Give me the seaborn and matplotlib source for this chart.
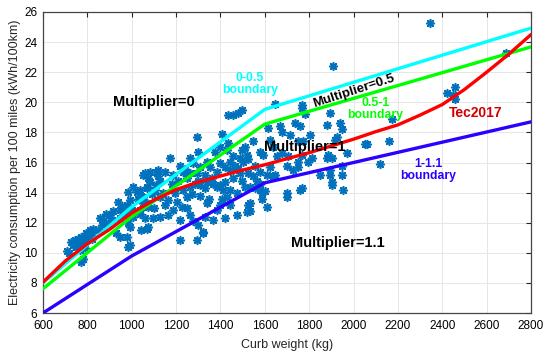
import matplotlib
matplotlib.use("Agg")
import matplotlib.pyplot as plt
import seaborn as sns
import pandas as pd
import numpy as np

# ---------------- data ----------------
curb_weight = [
    706, 718, 728, 736, 743, 751, 758, 766, 766, 773, 773, 781, 781, 788, 796, 796, 804, 811, 819, 819,
    827, 848, 856, 864, 871, 886, 893, 901, 909, 916, 931, 939, 946, 946, 946, 954, 961, 969, 977, 977,
    984, 984, 984, 991, 991, 991, 999, 1006, 1006,
    1022, 1029, 1037, 1037, 1037, 1044, 1044, 1052, 1052, 1052, 1059, 1059, 1067, 1067, 1067, 1067,
    1074, 1074, 1074, 1082, 1082, 1097, 1104, 1112, 1119, 1119, 1127, 1127, 1127, 1149, 1164, 1164,
    1172, 1187, 1187, 1202, 1100, 1090, 1110, 1140, 1150, 1180, 1195,
    1217, 1217, 1217, 1225, 1232, 1240, 1247, 1247, 1262, 1262, 1262, 1262, 1277, 1277, 1293, 1293,
    1293, 1300, 1300, 1300, 1307, 1307, 1322, 1322, 1330, 1330, 1330, 1338, 1338, 1353, 1360, 1368,
    1368, 1375, 1383, 1383, 1383, 1398, 1398, 1398, 1398, 1210, 1230, 1250, 1270, 1285, 1310, 1340, 1350,
    1405, 1405, 1413, 1420, 1420, 1420, 1428, 1428, 1435, 1435, 1443, 1443, 1443, 1443, 1458, 1458,
    1458, 1466, 1473, 1473, 1480, 1480, 1488, 1488, 1496, 1496, 1496, 1503, 1511, 1511, 1518, 1518,
    1525, 1525, 1525, 1533, 1533, 1533, 1548, 1548, 1556, 1556, 1563, 1578, 1578, 1578, 1578, 1586,
    1586, 1593, 1601, 1609, 1609,
    1616, 1623, 1623, 1638, 1638, 1646, 1646, 1654, 1669, 1676, 1676, 1699, 1699, 1699, 1706, 1714,
    1729, 1736, 1751, 1751, 1751, 1759, 1759, 1767, 1767, 1767, 1767, 1774, 1781, 1796, 1804, 1812,
    1849, 1879, 1879, 1887, 1894, 1894, 1894, 1902, 1902, 1902, 1909, 1917, 1925, 1940, 1947, 1947,
    1947, 1954, 1970,
    2052, 2060, 2120, 2158, 2173, 2346, 2421, 2450, 2459, 2459, 2688,
]
consumption = [
    10.1, 10.0, 10.7, 10.5, 10.85, 10.4, 10.9, 10.6, 10.2, 11.05, 9.4, 10.6, 9.6, 10.3, 10.85, 11.3, 11.1, 11.5, 11.3, 10.9,
    11.6, 11.5, 12.3, 11.85, 12.1, 12.6, 11.95, 12.5, 12.2, 12.75, 11.3, 13.4, 12.85, 12.3, 11.07, 13.1, 12.5, 12.7, 13.2, 11.05,
    14.05, 11.95, 10.4, 13.5, 11.7, 10.5, 12.85, 12.4, 14.4,
    14.05, 13.6, 14.2, 12.85, 12.6, 13.8, 11.5, 13.3, 13.7, 15.2, 15.3, 12.3, 14.3, 14.4, 11.6, 13.3,
    14.95, 13.05, 11.7, 15.4, 14.7, 12.3, 14.2, 15.4, 15.5, 15.1, 14.8, 13.7, 12.4, 15.4, 13.5, 12.5,
    16.3, 15.2, 12.85, 13.4, 13.0, 13.9, 14.5, 14.0, 13.2, 14.6, 14.0,
    15.8, 12.2, 10.85, 13.05, 15.4, 15.6, 13.7, 12.95, 16.3, 15.3, 14.4, 12.5, 15.95, 12.1, 17.7, 15.3,
    10.85, 16.7, 14.8, 11.85, 15.7, 14.5, 11.3, 11.4, 15.2, 14.3, 12.4, 16.05, 13.3, 15.7, 14.95, 14.6,
    12.2, 16.7, 15.4, 14.4, 12.85, 17.05, 15.95, 14.5, 13.2, 14.8, 14.2, 15.0, 13.9, 14.6, 13.8, 14.7, 13.6,
    17.9, 13.6, 14.2, 15.7, 14.7, 12.3, 16.8, 13.7, 19.15, 17.3, 16.05, 15.5, 14.2, 13.2, 19.15, 16.4,
    14.95, 15.8, 14.0, 12.5, 19.3, 15.6, 15.3, 16.3, 19.5, 16.8, 14.8, 16.05, 17.05, 14.4, 16.5, 12.7,
    16.2, 15.3, 13.2, 14.4, 13.3, 12.8, 17.4, 15.1, 15.8, 14.3, 14.8, 16.7, 15.4, 14.6, 14.2, 14.0,
    13.6, 16.5, 14.1, 15.2, 13.05,
    18.3, 17.5, 15.7, 17.05, 15.1, 19.9, 15.2, 16.4, 18.4, 18.0, 16.6, 15.8, 14.0, 13.7, 16.4, 17.8,
    15.5, 18.6, 17.4, 16.05, 15.7, 18.4, 14.2, 19.8, 19.6, 16.5, 14.3, 17.4, 19.2, 16.05, 17.8, 16.3,
    15.2, 18.5, 16.3, 16.5, 19.3, 15.5, 15.2, 16.3, 14.7, 14.5, 22.4, 17.5, 17.7, 18.6, 18.2, 15.8,
    15.2, 14.2, 16.6,
    17.2, 17.25, 15.9, 17.4, 18.9, 25.25, 20.6, 20.5, 21.0, 20.2, 23.3,
]

# boundary lines (breakpoints)
boundary_x = [600, 1000, 1600, 2800]
cyan_y = [8.01, 13.05, 19.53, 24.93]     # 0-0.5 boundary
green_y = [7.61, 12.40, 18.55, 23.68]    # 0.5-1 boundary
blue_y = [6.00, 9.79, 14.65, 18.70]      # 1-1.1 boundary

# Tec2017 curve
tec_x = [600, 700, 800, 900, 1000, 1100, 1200, 1300, 1400, 1500, 1600, 1700,
         1800, 1900, 2000, 2100, 2200, 2300, 2400, 2500, 2600, 2700, 2800]
tec_y = [8.05, 9.45, 10.6, 11.55, 12.65, 13.5, 14.2, 14.7, 15.1, 15.5, 15.85, 16.25,
         16.65, 17.1, 17.55, 18.05, 18.5, 19.15, 19.85, 20.85, 22.0, 23.2, 24.5]

x_ticks = [600, 800, 1000, 1200, 1400, 1600, 1800, 2000, 2200, 2400, 2600, 2800]
y_ticks = [6, 8, 10, 12, 14, 16, 18, 20, 22, 24, 26]

# ---------------- plot ----------------
sns.set_style("white")
plt.rcParams['font.family'] = ['Liberation Sans', 'DejaVu Sans']

fig = plt.figure(figsize=(5.5, 3.59), dpi=100)
ax = fig.add_axes([43 / 550, 1 - 313 / 359, (531 - 43) / 550, (313 - 12) / 359])

scatter_df = pd.DataFrame({"w": curb_weight, "c": consumption})
sns.scatterplot(data=scatter_df, x="w", y="c", ax=ax, marker=(8, 2, 0), s=30,
                color="#0072BD", edgecolor="#0072BD", linewidth=1.2, zorder=3, legend=False)

lw = 2.4
sns.lineplot(x=boundary_x, y=cyan_y, ax=ax, color="#00FFFF", linewidth=lw, zorder=4)
sns.lineplot(x=boundary_x, y=green_y, ax=ax, color="#00FF00", linewidth=lw, zorder=5)
sns.lineplot(x=boundary_x, y=blue_y, ax=ax, color="#2B00FF", linewidth=lw, zorder=5)
sns.lineplot(x=tec_x, y=tec_y, ax=ax, color="#FF0000", linewidth=lw, zorder=6)

ax.set_xlim(600, 2800)
ax.set_ylim(6, 26)
ax.set_xticks(x_ticks)
ax.set_yticks(y_ticks)
ax.tick_params(direction="in", top=True, right=True, length=3.5, width=0.8,
               labelsize=8.5, colors="#262626", labelcolor="black")
ax.tick_params(axis="x", pad=5)
ax.tick_params(axis="y", pad=4)
ax.grid(True, color="#e6e6e6", linewidth=0.7)
ax.set_axisbelow(True)
for sp in ax.spines.values():
    sp.set_color("#444444")
    sp.set_linewidth(0.9)

ax.set_xlabel("Curb weight (kg)", fontsize=9, labelpad=5)
ax.set_ylabel("Electricity consumption per 100 miles (kWh/100km)", fontsize=9, labelpad=2)

bold = dict(fontweight="bold", ha="center", va="center", zorder=8)
ax.text(1102, 20.0, "Multiplier=0", fontsize=10.5, color="black", **bold)
ax.text(1533, 21.2, "0-0.5\nboundary", fontsize=8.8, color="#00FFFF", linespacing=1.0, **bold)
ax.text(2003, 20.75, "Multiplier=0.5", fontsize=9.5, color="black", rotation=18,
        rotation_mode="anchor", **bold)
ax.text(2098, 19.55, "0.5-1\nboundary", fontsize=8.8, color="#00FF00", linespacing=1.0, **bold)
ax.text(1778, 17.05, "Multiplier=1", fontsize=10.5, color="black", **bold)
ax.text(2549, 19.27, "Tec2017", fontsize=10, color="#D00000", **bold)
ax.text(2337, 15.5, "1-1.1\nboundary", fontsize=8.8, color="#2B00FF", linespacing=1.0, **bold)
ax.text(1928, 10.67, "Multiplier=1.1", fontsize=10.5, color="black", **bold)

fig.savefig("out.png", dpi=100)
